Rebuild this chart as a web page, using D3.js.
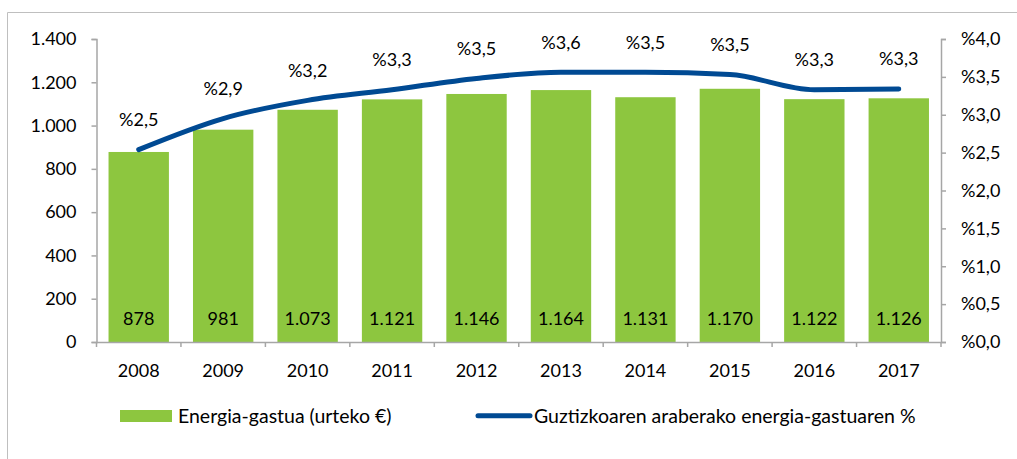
<!DOCTYPE html>
<html><head><meta charset="utf-8">
<script src="https://cdn.jsdelivr.net/npm/d3@7"></script>
<style>
html,body{margin:0;padding:0;background:#fff;}
svg{display:block;font-family:Lato, "Open Sans", sans-serif;}
</style></head>
<body><svg id="c" width="1017" height="459"></svg>
<script>
const years = ["2008","2009","2010","2011","2012","2013","2014","2015","2016","2017"];
const spending = [878,981,1073,1121,1146,1164,1131,1170,1122,1126];
const share = [2.54,2.95,3.19,3.33,3.48,3.56,3.56,3.53,3.33,3.34];
const shareLabels = ["%2,5","%2,9","%3,2","%3,3","%3,5","%3,6","%3,5","%3,5","%3,3","%3,3"];
const leftTicks = [0,200,400,600,800,1000,1200,1400];
const rightTicks = [0,0.5,1,1.5,2,2.5,3,3.5,4];
const legendLabels = ["Energia-gastua (urteko €)","Guztizkoaren araberako energia-gastuaren %"];

const svg = d3.select("#c");
const W=1017,H=459;
const m = {l:96.5, r:941, t:39, b:342};
const green="#8DC63F", blue="#004A93", axisCol="#A6A6A6", txt="#000";
const fs = 18, fsLeg = 19.5;

// frame (top and left edges)
svg.append("path").attr("d",`M7.5,${H}V12.5H${W}`).attr("fill","none").attr("stroke","#BFBFBF").attr("stroke-width",1);

const x = d3.scaleBand().domain(years).range([m.l,m.r]).paddingInner(0.285).paddingOuter(0.1425);
const xb = d3.scaleBand().domain(years).range([m.l,m.r]);
const yL = d3.scaleLinear().domain([0,1400]).range([m.b,m.t]);
const yR = d3.scaleLinear().domain([0,4]).range([m.b,m.t]);

// bars
svg.append("g").selectAll("rect").data(spending).join("rect")
  .attr("x",(d,i)=>x(years[i])).attr("width",x.bandwidth())
  .attr("y",d=>yL(d)).attr("height",d=>yL(0)-yL(d)).attr("fill",green);

const fmtN = d3.formatLocale({decimal:",",thousands:".",grouping:[3],currency:["","€"]}).format(",d");
const fmtP = d => "%" + d.toFixed(1).replace(".",",");

// left axis
const gl = svg.append("g").attr("transform",`translate(${m.l},0)`)
  .call(d3.axisLeft(yL).tickValues(leftTicks).tickFormat(fmtN).tickSize(5).tickPadding(15));
// right axis
const gr = svg.append("g").attr("transform",`translate(${m.r},0)`)
  .call(d3.axisRight(yR).tickValues(rightTicks).tickFormat(fmtP).tickSize(5).tickPadding(15));
// bottom axis
const gb = svg.append("g").attr("transform",`translate(0,${m.b})`)
  .call(d3.axisBottom(xb).tickSize(0).tickPadding(22));
// category boundary ticks
const bounds = years.map(y=>xb(y)).concat([m.r]);
svg.append("g").selectAll("line").data(bounds).join("line")
  .attr("x1",d=>d).attr("x2",d=>d).attr("y1",m.b).attr("y2",m.b+5)
  .attr("stroke",axisCol).attr("stroke-width",1.5);

[gl,gr,gb].forEach(g=>{
  g.selectAll("path.domain").attr("stroke",axisCol).attr("stroke-width",1.5);
  g.selectAll(".tick line").attr("stroke",axisCol).attr("stroke-width",1.5);
  g.selectAll("text").attr("font-size",fs).attr("font-family","Lato").attr("fill",txt);
});
gb.select("path.domain").attr("d",`M${m.l},0.5H${m.r}`);

// bar value labels
svg.append("g").selectAll("text").data(spending).join("text")
  .attr("x",(d,i)=>xb(years[i])+xb.bandwidth()/2).attr("y",m.b-23)
  .attr("dy","0.35em").attr("text-anchor","middle").attr("font-size",fs).attr("fill",txt)
  .text(d=>fmtN(d));

// line
const pts = share.map((v,i)=>[xb(years[i])+xb.bandwidth()/2, yR(v)]);
svg.append("path").attr("d",d3.line().curve(d3.curveMonotoneX)(pts))
  .attr("fill","none").attr("stroke",blue).attr("stroke-width",5).attr("stroke-linecap","round").attr("stroke-linejoin","round");

// line labels
svg.append("g").selectAll("text").data(shareLabels).join("text")
  .attr("x",(d,i)=>pts[i][0]).attr("y",(d,i)=>pts[i][1]-30)
  .attr("dy","0.35em").attr("text-anchor","middle").attr("font-size",fs).attr("fill",txt)
  .text(d=>d);

// legend
const lg = svg.append("g");
lg.append("rect").attr("x",120).attr("y",410).attr("width",52).attr("height",12).attr("fill",green);
lg.append("text").attr("x",178).attr("y",416).attr("dy","0.35em").attr("font-size",fsLeg).attr("fill",txt).text(legendLabels[0]);
lg.append("line").attr("x1",478).attr("x2",530).attr("y1",415.7).attr("y2",415.7)
  .attr("stroke",blue).attr("stroke-width",5).attr("stroke-linecap","round");
lg.append("text").attr("x",534).attr("y",416).attr("dy","0.35em").attr("font-size",fsLeg).attr("fill",txt).text(legendLabels[1]);
</script></body></html>
